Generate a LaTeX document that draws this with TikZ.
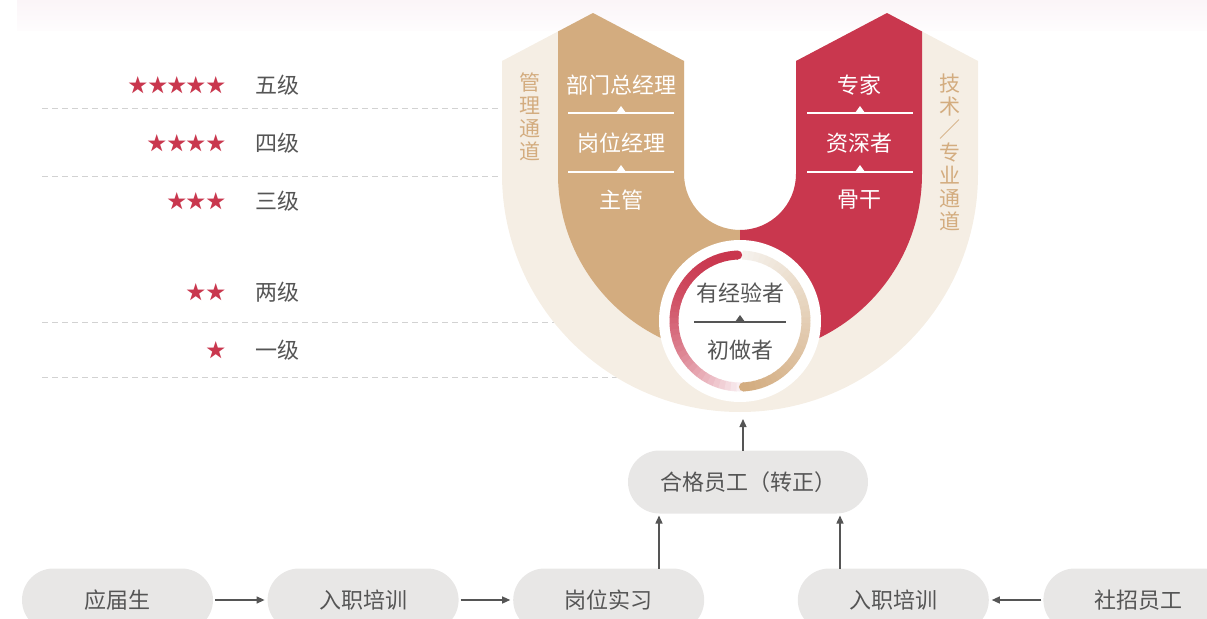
\documentclass[tikz,border=0pt]{standalone}
\usepackage{fontspec}
\setmainfont{Noto Sans CJK SC}
\usepackage{xcolor}
\usetikzlibrary{positioning, arrows.meta, calc}

\definecolor{tanc}{HTML}{D3AC7F}
\definecolor{redc}{HTML}{C9374E}
\definecolor{beige}{HTML}{F5EEE4}
\definecolor{pillc}{HTML}{E8E7E6}
\definecolor{txt}{HTML}{555555}
\definecolor{dashc}{HTML}{D2D2D2}
\definecolor{ringpale}{HTML}{F9EEF1}
\definecolor{ringtop}{HTML}{F5F1EC}

\begin{document}
\begin{tikzpicture}[x=0.5pt, y=0.5pt,
          font=\fontsize{11pt}{13pt}\selectfont,
          pill/.style={fill=pillc, rounded corners=15.75pt, minimum width=95.5pt, minimum height=31.5pt, text=txt, inner sep=0pt, outer sep=0pt},
          lvl/.style={text=txt, inner sep=0pt},
          stars/.style={text=redc, inner sep=0pt, font=\fontsize{9.7pt}{11pt}\selectfont},
          rung/.style={text=white, inner sep=0pt},
          vlbl/.style={text=tanc, align=center, inner sep=0pt, font=\fontsize{10.5pt}{11.5pt}\selectfont},
          dashline/.style={draw=dashc, line width=0.5pt, dash pattern=on 3pt off 2pt},
          ring/.style={line width=4.5pt},
          ar/.style={-{Triangle[length=4pt, width=3.5pt]}, draw=txt, line width=0.65pt}]
        \useasboundingbox (0,0) rectangle (1207,618);
        \shade[top color={rgb,255:red,251;green,245;blue,248}, bottom color={rgb,255:red,254;green,252;blue,253}] (17,588) rectangle (1207,618);
        % level grid
        \draw[dashline] (42,510) -- (504,510);
        \draw[dashline] (42,442) -- (504,442);
        \draw[dashline] (42,296) -- (558,296);
        \draw[dashline] (42,241) -- (620,241);
        \node[lvl, anchor=west] (lv5) at (255,533) {五级};
        \node[lvl, anchor=west] (lv4) at (255,475) {四级};
        \node[lvl, anchor=west] (lv3) at (255,417) {三级};
        \node[lvl, anchor=west] (lv2) at (255,326) {两级};
        \node[lvl, anchor=west] (lv1) at (255,268) {一级};
        \node[stars, left=14.5pt of lv5] (st5) {★★★★★};
        \node[stars, left=14.5pt of lv4] (st4) {★★★★};
        \node[stars, left=14.5pt of lv3] (st3) {★★★};
        \node[stars, left=14.5pt of lv2] (st2) {★★};
        \node[stars, left=14.5pt of lv1] (st1) {★};
        % U shaped career paths
        \fill[beige] (502,557) -- (593,605) -- (684,557) -- (684,444) arc[start angle=180, end angle=360, radius=56]
          -- (796,557) -- (887,605) -- (978,557) -- (978,444) arc[start angle=0, end angle=-180, radius=238] -- cycle;
        \fill[tanc] (558,586.5) -- (593,605) -- (684,557) -- (684,444) arc[start angle=180, end angle=270, radius=56]
          -- (740,262) arc[start angle=270, end angle=180, radius=182] -- cycle;
        \fill[redc] (796,557) -- (887,605) -- (922,586.5) -- (922,444) arc[start angle=0, end angle=-90, radius=182]
          -- (740,388) arc[start angle=270, end angle=360, radius=56] -- cycle;
        \node[vlbl] (mgmt) at (530,501) {管\\理\\通\\道};
        \node[vlbl] (tech) at (950,466) {技\\术\\／\\专\\业\\通\\道};
        \node[rung] (gm) at (621,533) {部门总经理};
        \node[rung] (pm) at (621,475) {岗位经理};
        \node[rung] (sup) at (621,418) {主管};
        \node[rung] (exp) at (859,533) {专家};
        \node[rung] (sen) at (859,475) {资深者};
        \node[rung] (core) at (859,418) {骨干};
        % hub circle
        \coordinate (hub) at (740,297);
        \fill[white] (hub) circle[radius=81];
        \foreach \i in {0,...,35}{
          \pgfmathsetmacro\angA{92+5*\i}
          \pgfmathsetmacro\mixp{100-100*(\i/35)^2}
          \draw[ring, draw=redc!\mixp!ringpale] ($(hub)+(\angA:66)$) arc[start angle=\angA, end angle=\angA+5.5, radius=66];
        }
        \foreach \i in {0,...,34}{
          \pgfmathsetmacro\angB{88-5*\i}
          \pgfmathsetmacro\mixq{100*(\i/34)}
          \draw[ring, draw=tanc!\mixq!ringtop] ($(hub)+(\angB:66)$) arc[start angle=\angB, end angle=\angB-5.5, radius=66];
        }
        \fill[redc] ($(hub)+(92:66)$) circle[radius=4.5];
        \fill[tanc] ($(hub)+(-87:66)$) circle[radius=4.5];
        \node[lvl] (exper) at (740,325) {有经验者};
        \node[lvl] (novice) at (740,268) {初做者};
        % separators with small up marks
        \foreach \cx/\cy/\hw/\col in {621/505/53/white, 621/446/53/white, 860/505/53/white, 860/446/53/white, 740/296/46/txt}{
          \draw[draw=\col, line width=0.6pt] (\cx-\hw,\cy) -- (\cx+\hw,\cy);
          \fill[\col] (\cx-5,\cy) -- (\cx+5,\cy) -- (\cx,\cy+7) -- cycle;
        }
        % entry flow
        \node[pill] (grad) at (117.5,18) {应届生};
        \node[pill, right=27.3pt of grad] (train1) {入职培训};
        \node[pill, right=27.3pt of train1] (intern) {岗位实习};
        \node[pill, right=46.8pt of intern] (train2) {入职培训};
        \node[pill, right=27.3pt of train2] (social) {社招员工};
        \node[pill, minimum width=120pt] (qual) at (748,136) {合格员工（转正）};
        \coordinate (qL) at ($(qual.south west)+(31,-2)$);
        \coordinate (qR) at ($(qual.south east)+(-28,-2)$);
        \coordinate (ubot) at (743,199);
        \draw[ar] ([xshift=1pt]grad.east) -- ([xshift=-1.5pt]train1.west);
        \draw[ar] ([xshift=1pt]train1.east) -- ([xshift=-1.5pt]intern.west);
        \draw[ar] ([xshift=-1pt]social.west) -- ([xshift=1.5pt]train2.east);
        \draw[ar] (intern.north -| qL) -- (qL);
        \draw[ar] (train2.north -| qR) -- (qR);
        \draw[ar] (qual.north -| ubot) -- (ubot);
      \end{tikzpicture}
\end{document}
